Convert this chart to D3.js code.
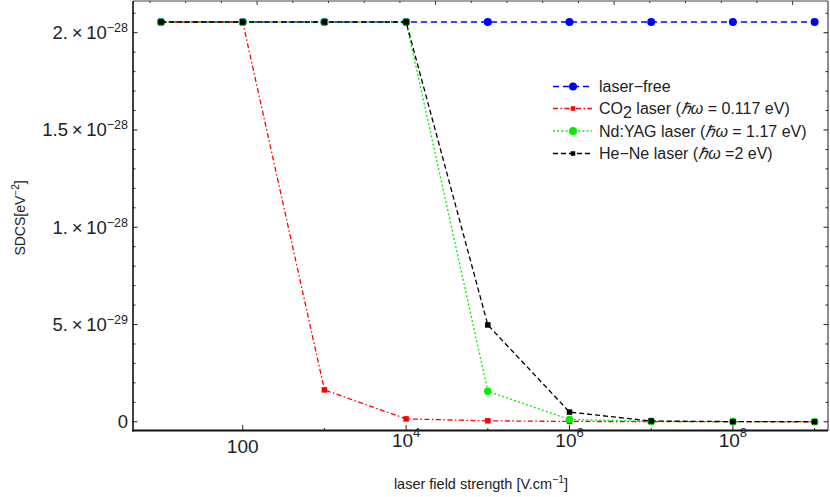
<!DOCTYPE html>
<html>
<head>
<meta charset="utf-8">
<script src="https://cdn.jsdelivr.net/npm/d3@7"></script>
<style>
  body { margin: 0; background: #fff; }
  text { font-family: "Liberation Sans", Arial, sans-serif; fill: #222; }
</style>
</head>
<body>
<div id="chart"></div>
<script>
// Field strengths (V/cm) and SDCS values (eV^-2)
const fields = [1e1, 1e2, 1e3, 1e4, 1e5, 1e6, 1e7, 1e8, 1e9];
const laserFree = [2.055e-28, 2.055e-28, 2.055e-28, 2.055e-28, 2.055e-28, 2.055e-28, 2.055e-28, 2.055e-28, 2.055e-28];
const co2Laser = [2.055e-28, 2.055e-28, 1.64e-29, 1.5e-30, 5e-31, 2e-31, 1e-31, 5e-32, 3e-32];
const ndYagLaser = [2.055e-28, 2.055e-28, 2.055e-28, 2.055e-28, 1.57e-29, 1.2e-30, 2e-31, 1e-31, 5e-32];
const heNeLaser = [2.055e-28, 2.055e-28, 2.055e-28, 2.055e-28, 4.98e-29, 5.0e-30, 4e-31, 1e-31, 5e-32];

// Tick values and labels
const xMajorTicks = [1e2, 1e4, 1e6, 1e8];
const xMajorExp = ["100", "4", "6", "8"];
const xMinorTicks = [1e3, 1e5, 1e7, 1e9];
const yMajorTicks = [0, 5e-29, 1e-28, 1.5e-28, 2e-28];
const yMantissa = ["0", "5.", "1.", "1.5", "2."];
const yExponent = ["", "\u221229", "\u221228", "\u221228", "\u221228"];

const series = [
    {name: "laser-free", values: laserFree, color: "#0000ff", dash: "6,4", marker: "circle", size: 4},
    {name: "co2", values: co2Laser, color: "#ff0000", dash: "5,2.5,1.5,2.5", marker: "square", size: 5.5},
    {name: "ndyag", values: ndYagLaser, color: "#00ee00", dash: "2,2.2", marker: "circle", size: 3.8},
    {name: "hene", values: heNeLaser, color: "#000000", dash: "5,3", marker: "square", size: 5.5}
];

const W = 830, H = 497;
const plot = {left: 133, right: 828, top: 1, bottom: 430.5};

const svg = d3.select("#chart").append("svg")
    .attr("width", W)
    .attr("height", H);

// Scales
const x = d3.scaleLog()
    .domain([Math.pow(10, 0.657), Math.pow(10, 9.164)])
    .range([plot.left, plot.right]);
const y = d3.scaleLinear()
    .domain([-0.0447e-28, 2.163e-28])
    .range([plot.bottom, plot.top]);

// Frame top/right (thin)
svg.append("line")
    .attr("x1", plot.left).attr("x2", plot.right)
    .attr("y1", plot.top).attr("y2", plot.top)
    .attr("stroke", "#444").attr("stroke-width", 1);
svg.append("line")
    .attr("x1", plot.right).attr("x2", plot.right)
    .attr("y1", plot.top).attr("y2", plot.bottom)
    .attr("stroke", "#444").attr("stroke-width", 1.2);

// Top frame ticks (Mathematica places these on its own spacing)
const topTicks = d3.range(0, 19).map(i => ({v: Math.pow(10, 0.865 + 0.437 * i), major: i % 5 === 3}));
svg.append("g").selectAll("line")
    .data(topTicks)
    .join("line")
    .attr("x1", d => x(d.v)).attr("x2", d => x(d.v))
    .attr("y1", plot.top).attr("y2", d => plot.top + (d.major ? 4 : 2))
    .attr("stroke", "#333").attr("stroke-width", 1);

// Y minor ticks left and right
const yMinor = d3.range(0, 22).map(i => i * 1e-29);
const isMajorY = d => yMajorTicks.includes(+(d.toPrecision(3)));
const yTicksG = svg.append("g");
yTicksG.selectAll(".yl")
    .data(yMinor)
    .join("line")
    .attr("x1", plot.left).attr("x2", d => plot.left + (isMajorY(d) ? 4.5 : 2.5))
    .attr("y1", d => y(d)).attr("y2", d => y(d))
    .attr("stroke", "#222").attr("stroke-width", 1);
yTicksG.selectAll(".yr")
    .data(yMinor)
    .join("line")
    .attr("x1", plot.right).attr("x2", d => plot.right - (isMajorY(d) ? 4.5 : 2.5))
    .attr("y1", d => y(d)).attr("y2", d => y(d))
    .attr("stroke", "#222").attr("stroke-width", 1);

// X ticks (bottom, pointing up)
svg.append("g").selectAll("line")
    .data(xMajorTicks.map(v => ({v, len: 5.5})).concat(xMinorTicks.map(v => ({v, len: 2.5}))))
    .join("line")
    .attr("x1", d => x(d.v)).attr("x2", d => x(d.v))
    .attr("y1", plot.bottom).attr("y2", d => plot.bottom - d.len)
    .attr("stroke", "#222").attr("stroke-width", 1);

// Main axes (left and bottom, thicker)
svg.append("line")
    .attr("x1", plot.left).attr("x2", plot.left)
    .attr("y1", plot.top).attr("y2", plot.bottom + 1)
    .attr("stroke", "#111").attr("stroke-width", 1.6);
svg.append("line")
    .attr("x1", plot.left - 0.8).attr("x2", plot.right)
    .attr("y1", plot.bottom).attr("y2", plot.bottom)
    .attr("stroke", "#111").attr("stroke-width", 1.8);

// Y tick labels
const yLab = svg.append("g").selectAll("text")
    .data(yMajorTicks)
    .join("text")
    .attr("x", 128)
    .attr("y", d => y(d) + 6.5)
    .attr("text-anchor", "end")
    .attr("font-size", 18.5);
yLab.each(function(d, i) {
    const t = d3.select(this);
    if (yExponent[i] === "") {
        t.text(yMantissa[i]);
    } else {
        t.append("tspan").text(yMantissa[i] + "\u2009\u00d7\u200910");
        t.append("tspan").attr("dy", -7).attr("font-size", 12.5).text(yExponent[i]);
    }
});

// X tick labels
const xLab = svg.append("g").selectAll("text")
    .data(xMajorTicks)
    .join("text")
    .attr("x", d => x(d))
    .attr("y", (d, i) => i === 0 ? 452.5 : 446.5)
    .attr("text-anchor", "middle")
    .attr("font-size", 19);
xLab.each(function(d, i) {
    const t = d3.select(this);
    if (i === 0) {
        t.text(xMajorExp[i]);
    } else {
        t.append("tspan").text("10");
        t.append("tspan").attr("dy", -9.5).attr("font-size", 13).text(xMajorExp[i]);
    }
});

// Axis titles
const xTitle = svg.append("text")
    .attr("x", 481).attr("y", 488.5)
    .attr("text-anchor", "middle")
    .attr("font-size", 14.5);
xTitle.append("tspan").text("laser field strength [V.cm");
xTitle.append("tspan").attr("dy", -5.5).attr("font-size", 10.5).text("\u22121");
xTitle.append("tspan").attr("dy", 5.5).text("]");

const yTitle = svg.append("text")
    .attr("transform", "translate(24.5,218) rotate(-90)")
    .attr("text-anchor", "middle")
    .attr("font-size", 14);
yTitle.append("tspan").text("SDCS[eV");
yTitle.append("tspan").attr("dy", -5.5).attr("font-size", 10).text("\u22122");
yTitle.append("tspan").attr("dy", 5.5).text("]");

// Series lines and markers
const line = d3.line()
    .x((d, i) => x(fields[i]))
    .y(d => y(d));

function drawMarker(g, s, cx, cy) {
    if (s.marker === "circle") {
        g.append("circle").attr("cx", cx).attr("cy", cy).attr("r", s.size).attr("fill", s.color);
    } else {
        g.append("rect")
            .attr("x", cx - s.size / 2).attr("y", cy - s.size / 2)
            .attr("width", s.size).attr("height", s.size)
            .attr("fill", s.color);
    }
}

series.forEach(s => {
    const g = svg.append("g");
    g.append("path")
        .datum(s.values)
        .attr("d", line)
        .attr("fill", "none")
        .attr("stroke", s.color)
        .attr("stroke-width", 1.3)
        .attr("stroke-dasharray", s.dash);
    s.values.forEach((v, i) => drawMarker(g, s, x(fields[i]), y(v)));
});

// Legend
const legendRows = [
    {s: series[0], y: 86.5},
    {s: series[1], y: 108.5},
    {s: series[2], y: 131},
    {s: series[3], y: 153.5}
];
const legend = svg.append("g");
legendRows.forEach((r, k) => {
    legend.append("line")
        .attr("x1", 553).attr("x2", 592)
        .attr("y1", r.y).attr("y2", r.y)
        .attr("stroke", r.s.color)
        .attr("stroke-width", 1.3)
        .attr("stroke-dasharray", r.s.dash);
    drawMarker(legend, Object.assign({}, r.s, {size: r.s.marker === "circle" ? 4 : 4.5}), 573, r.y);
    const t = legend.append("text")
        .attr("x", 599).attr("y", r.y + 5.5)
        .attr("font-size", 16);
    if (k === 0) {
        t.text("laser\u2212free");
    } else if (k === 1) {
        t.append("tspan").text("CO");
        t.append("tspan").attr("dy", 4).text("2");
        t.append("tspan").attr("dy", -4).text(" laser (");
        t.append("tspan").attr("font-style", "italic").text("\u210f\u03c9");
        t.append("tspan").text(" = 0.117 eV)");
    } else if (k === 2) {
        t.append("tspan").text("Nd:YAG laser (");
        t.append("tspan").attr("font-style", "italic").text("\u210f\u03c9");
        t.append("tspan").text(" = 1.17 eV)");
    } else {
        t.append("tspan").text("He\u2212Ne laser (");
        t.append("tspan").attr("font-style", "italic").text("\u210f\u03c9");
        t.append("tspan").text(" =2 eV)");
    }
});
</script>
</body>
</html>
